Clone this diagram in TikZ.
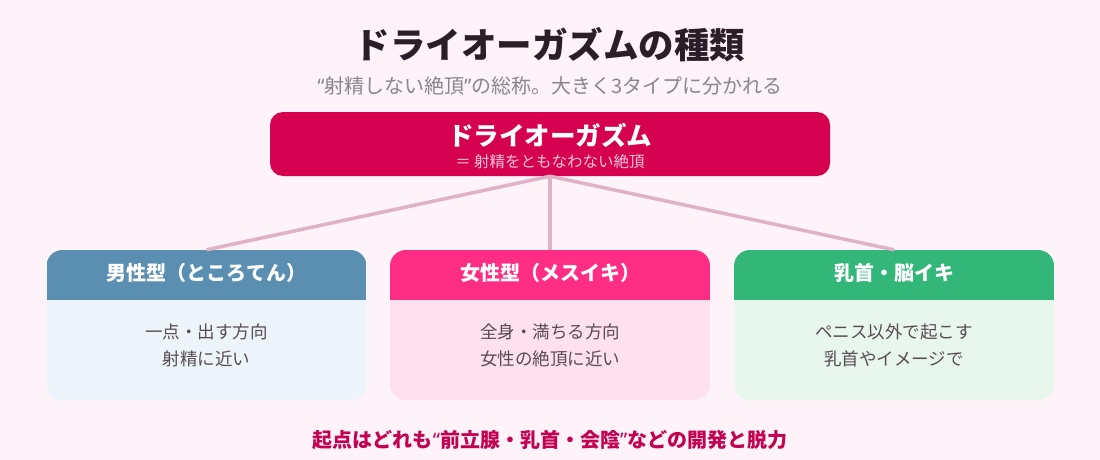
\documentclass[tikz,border=0pt]{standalone}
\usepackage{fontspec}
\setmainfont{Noto Sans CJK JP}
\newfontfamily\lat{Noto Sans}
\usetikzlibrary{positioning}
\definecolor{bgc}{HTML}{FDF3F9}
\definecolor{titlec}{HTML}{2B1E29}
\definecolor{subc}{HTML}{8C8589}
\definecolor{topc}{HTML}{D5004F}
\definecolor{topsub}{HTML}{F8C6D9}
\definecolor{linec}{HTML}{DFB2C7}
\definecolor{bodytext}{HTML}{584C54}
\definecolor{bluehd}{HTML}{5B8FB2}
\definecolor{bluebd}{HTML}{EEF4FB}
\definecolor{pinkhd}{HTML}{FF2E84}
\definecolor{pinkbd}{HTML}{FFE1EE}
\definecolor{greenhd}{HTML}{33B779}
\definecolor{greenbd}{HTML}{E8F7EE}
\definecolor{footc}{HTML}{C40050}
\tikzset{
  card/.style n args={2}{rectangle, rounded corners=16pt, minimum width=320pt, minimum height=150pt, inner sep=0pt, fill=#2,
    path picture={\fill[#1, sharp corners] (path picture bounding box.north west) rectangle ([yshift=-50pt]path picture bounding box.north east);}},
  hdtext/.style={text=white, font=\fontsize{20}{24}\selectfont\bfseries, inner sep=0pt},
  bdtext/.style={text=bodytext, font=\fontsize{17.5}{27}\selectfont, align=center, inner sep=0pt},
  conn/.style={draw=linec, line width=3.5pt},
}
\begin{document}
\begin{tikzpicture}[x=1pt,y=-1pt]
\fill[bgc] (0,0) rectangle (1100,460);
\useasboundingbox (0,0) rectangle (1100,460);
\node[text=titlec, font=\fontsize{35.5}{40}\selectfont\bfseries, inner sep=0pt] (title) at (550,45) {ドライオーガズムの種類};
\node[text=subc, font=\fontsize{20}{24}\selectfont, inner sep=0pt] (sub) at (550,86) {{\lat “}射精しない絶頂{\lat ”}の総称。大きく3タイプに分かれる};
\node[rectangle, rounded corners=13pt, fill=topc, minimum width=560pt, minimum height=64pt, inner sep=0pt] (top) at (550,144) {};
\node[text=white, font=\fontsize{25.5}{30}\selectfont\bfseries, inner sep=0pt] (toptitle) at (550,135) {ドライオーガズム};
\node[text=topsub, font=\fontsize{15.5}{18}\selectfont, inner sep=0pt] (topsubt) at (550,162) {＝ 射精をともなわない絶頂};
\node[card={bluehd}{bluebd}] (c1) at (206.5,325) {};
\node[card={pinkhd}{pinkbd}] (c2) at (550,325) {};
\node[card={greenhd}{greenbd}] (c3) at (894,325) {};
\draw[conn] (top.south) -- (c1.north);
\draw[conn] (top.south) -- (c2.north);
\draw[conn] (top.south) -- (c3.north);
\node[hdtext] (h1) at (206.5,273) {男性型（ところてん）};
\node[hdtext] (h2) at (550,273) {女性型（メスイキ）};
\node[hdtext] (h3) at (894,273) {乳首・脳イキ};
\node[bdtext] (b1) at (206.5,345) {一点・出す方向\\射精に近い};
\node[bdtext] (b2) at (550,345) {全身・満ちる方向\\女性の絶頂に近い};
\node[bdtext] (b3) at (894,345) {ペニス以外で起こす\\乳首やイメージで};
\node[text=footc, font=\fontsize{20}{24}\selectfont\bfseries, inner sep=0pt] (foot) at (550,440) {起点はどれも{\lat\bfseries “}前立腺・乳首・会陰{\lat\bfseries ”}などの開発と脱力};
\end{tikzpicture}
\end{document}
